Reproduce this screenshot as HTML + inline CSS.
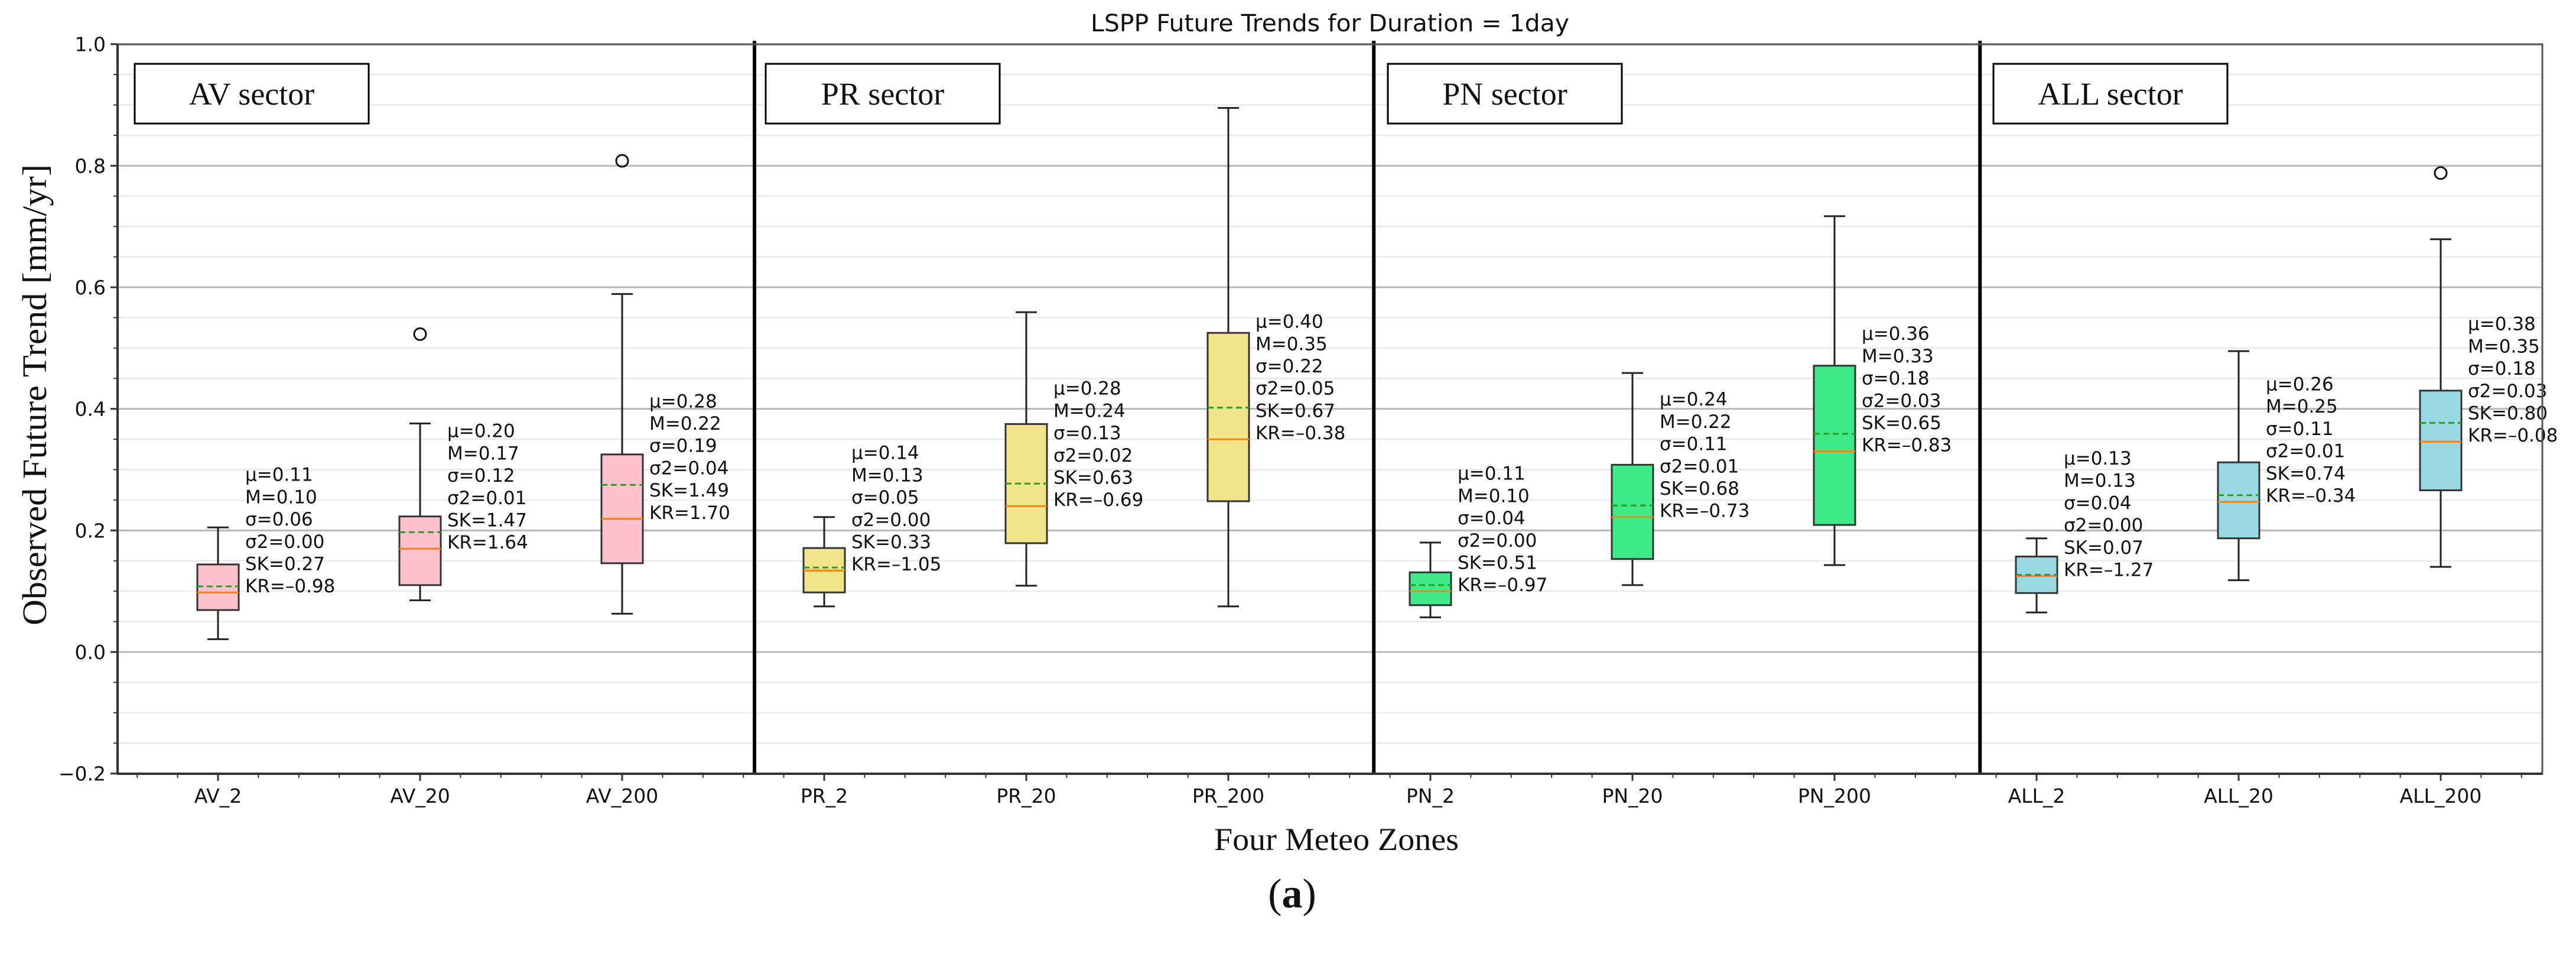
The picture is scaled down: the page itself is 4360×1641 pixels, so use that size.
<!DOCTYPE html>
<html><head><meta charset="utf-8">
<style>
html,body{margin:0;padding:0;background:#fff;width:4360px;height:1641px;overflow:hidden}
svg{display:block}
</style></head>
<body>
<svg id="chart" width="4360" height="1641" viewBox="0 0 4360 1641" xmlns="http://www.w3.org/2000/svg">
<g id="grid"></g>
<g id="marks"></g>
<g id="axes"></g>
<text x="2251" y="53" text-anchor="middle" font-family="DejaVu Sans, sans-serif" font-size="40" textLength="810" lengthAdjust="spacingAndGlyphs" fill="#111">LSPP Future Trends for Duration = 1day</text>
<text transform="translate(78,668) rotate(-90)" text-anchor="middle" font-family="Liberation Serif, serif" font-size="58" textLength="780" lengthAdjust="spacingAndGlyphs" fill="#111">Observed Future Trend [mm/yr]</text>
<text x="2262" y="1438" text-anchor="middle" font-family="Liberation Serif, serif" font-size="54" textLength="414" lengthAdjust="spacingAndGlyphs" fill="#111">Four Meteo Zones</text>
<text x="2187" y="1535" text-anchor="middle" font-family="Liberation Serif, serif" font-size="70" fill="#111">(<tspan font-weight="bold">a</tspan>)</text>
</svg>
<script>
const categories=["AV_2","AV_20","AV_200","PR_2","PR_20","PR_200","PN_2","PN_20","PN_200","ALL_2","ALL_20","ALL_200"];
const whiskerLow=[0.021,0.085,0.063,0.075,0.109,0.075,0.057,0.110,0.143,0.065,0.118,0.140];
const q1=[0.069,0.110,0.146,0.098,0.179,0.248,0.077,0.153,0.209,0.097,0.187,0.266];
const medians=[0.098,0.170,0.219,0.134,0.240,0.350,0.100,0.222,0.330,0.125,0.247,0.346];
const means=[0.108,0.197,0.275,0.139,0.277,0.402,0.110,0.241,0.359,0.127,0.258,0.377];
const q3=[0.144,0.223,0.325,0.171,0.375,0.525,0.131,0.308,0.471,0.157,0.312,0.430];
const whiskerHigh=[0.205,0.376,0.589,0.222,0.559,0.895,0.180,0.459,0.717,0.187,0.495,0.679];
const outliers=[[],[0.523],[0.808],[],[],[],[],[],[],[],[],[0.788]];
const statMu=["0.11","0.20","0.28","0.14","0.28","0.40","0.11","0.24","0.36","0.13","0.26","0.38"];
const statM=["0.10","0.17","0.22","0.13","0.24","0.35","0.10","0.22","0.33","0.13","0.25","0.35"];
const statSigma=["0.06","0.12","0.19","0.05","0.13","0.22","0.04","0.11","0.18","0.04","0.11","0.18"];
const statVar=["0.00","0.01","0.04","0.00","0.02","0.05","0.00","0.01","0.03","0.00","0.01","0.03"];
const statSK=["0.27","1.47","1.49","0.33","0.63","0.67","0.51","0.68","0.65","0.07","0.74","0.80"];
const statKR=["–0.98","1.64","1.70","–1.05","–0.69","–0.38","–0.97","–0.73","–0.83","–1.27","–0.34","–0.08"];
const sectors=["AV sector","PR sector","PN sector","ALL sector"];
const yTicks=[-0.2,0,0.2,0.4,0.6,0.8,1.0];
const yTickLabels=["−0.2","0.0","0.2","0.4","0.6","0.8","1.0"];
const dividerPos=[3.655,6.72,9.72];

const NS="http://www.w3.org/2000/svg";
const L=199,R=4303,T=75,B=1309;
function yS(v){return 1103-1028.3*v;}
function xS(i){return 369+342*i;}
const fills=["#ffc1cc","#f2e48a","#40ea88","#9ad8e4"];
function mk(tag,attrs,parent){const e=document.createElementNS(NS,tag);for(const k in attrs)e.setAttribute(k,attrs[k]);parent.appendChild(e);return e;}
const grid=document.getElementById('grid'),marks=document.getElementById('marks'),axes=document.getElementById('axes');

for(let k=-4;k<=20;k++){const v=k*0.05;if(k%4===0)continue;
 const g=mk('line',{x1:L,x2:R,y1:yS(v),y2:yS(v),stroke:'#ececec','stroke-width':3},grid);
 
 }
yTicks.forEach(v=>{const g=mk('line',{x1:L,x2:R,y1:yS(v),y2:yS(v),stroke:'#b8b8b8','stroke-width':3},grid);
 
 });

categories.forEach((c,i)=>{
 const x=xS(i),hw=35,cw=18,col=fills[Math.floor(i/3)];
 const g=mk('g',{},marks);
 
 
 mk('line',{x1:x,x2:x,y1:yS(q3[i]),y2:yS(whiskerHigh[i]),stroke:'#222','stroke-width':3},g);
 mk('line',{x1:x,x2:x,y1:yS(q1[i]),y2:yS(whiskerLow[i]),stroke:'#222','stroke-width':3},g);
 mk('line',{x1:x-cw,x2:x+cw,y1:yS(whiskerHigh[i]),y2:yS(whiskerHigh[i]),stroke:'#222','stroke-width':3},g);
 mk('line',{x1:x-cw,x2:x+cw,y1:yS(whiskerLow[i]),y2:yS(whiskerLow[i]),stroke:'#222','stroke-width':3},g);
 mk('rect',{x:x-hw,y:yS(q3[i]),width:2*hw,height:yS(q1[i])-yS(q3[i]),fill:col,stroke:'#333','stroke-width':3},g);
 mk('line',{x1:x-hw,x2:x+hw,y1:yS(medians[i]),y2:yS(medians[i]),stroke:'#ff7f0e','stroke-width':3},g);
 mk('line',{x1:x-hw,x2:x+hw,y1:yS(means[i]),y2:yS(means[i]),stroke:'#22a022','stroke-width':3,'stroke-dasharray':'10,6'},g);
 outliers[i].forEach(o=>{const c2=mk('circle',{cx:x,cy:yS(o),r:10,fill:'none',stroke:'#111','stroke-width':3},g);
  
  });
 const lines=["μ="+statMu[i],"M="+statM[i],"σ="+statSigma[i],"σ2="+statVar[i],"SK="+statSK[i],"KR="+statKR[i]];
 const t=mk('text',{x:x+46,'font-family':'DejaVu Sans, sans-serif','font-size':31,fill:'#111'},g);
 
 
 lines.forEach((s,j)=>{const ts=mk('tspan',{x:x+46,y:yS(medians[i])-(5-j)*37.7},t);ts.textContent=s;});
});

dividerPos.forEach(p=>{const x=xS(p-1);const d=mk('line',{x1:x,x2:x,y1:69,y2:B,stroke:'#000','stroke-width':6},axes);
 
 });

const boxL=[228,1296,2349,3374];
sectors.forEach((s,k)=>{const g=mk('g',{},axes);
 
 
 mk('rect',{x:boxL[k],y:108,width:396,height:101,fill:'#fff',stroke:'#000','stroke-width':3},g);
 const t=mk('text',{x:boxL[k]+198,y:177,'text-anchor':'middle','font-family':'Liberation Serif, serif','font-size':54,fill:'#111'},g);
 t.textContent=s;});

const sp=mk('rect',{x:L,y:T,width:R-L,height:B-T,fill:'none',stroke:'#555','stroke-width':3},axes);


mk('line',{x1:L,x2:L,y1:T,y2:B,stroke:'#333','stroke-width':4},axes);
mk('line',{x1:L,x2:R,y1:B,y2:B,stroke:'#333','stroke-width':4},axes);

yTicks.forEach((v,k)=>{mk('line',{x1:L-12,x2:L,y1:yS(v),y2:yS(v),stroke:'#333','stroke-width':3},axes);
 const t=mk('text',{x:L-20,y:yS(v)+12,'text-anchor':'end','font-family':'DejaVu Sans, sans-serif','font-size':33,fill:'#111'},axes);
 
 
 t.textContent=yTickLabels[k];});
for(let k=-4;k<=20;k++){if(k%4===0)continue;mk('line',{x1:L-7,x2:L,y1:yS(k*0.05),y2:yS(k*0.05),stroke:'#333','stroke-width':2},axes);}
for(let k=-2;k<=62;k++){const x=369+68.4*k;if(x<L||x>R)continue;if(k%5===0)continue;
 mk('line',{x1:x,x2:x,y1:B,y2:B+7,stroke:'#333','stroke-width':2},axes);}
categories.forEach((c,i)=>{const x=xS(i);mk('line',{x1:x,x2:x,y1:B,y2:B+12,stroke:'#333','stroke-width':3},axes);
 const t=mk('text',{x:x,y:B+49,'text-anchor':'middle','font-family':'DejaVu Sans, sans-serif','font-size':33,fill:'#111'},axes);
 
 
 t.textContent=c;});
</script>
</body></html>
